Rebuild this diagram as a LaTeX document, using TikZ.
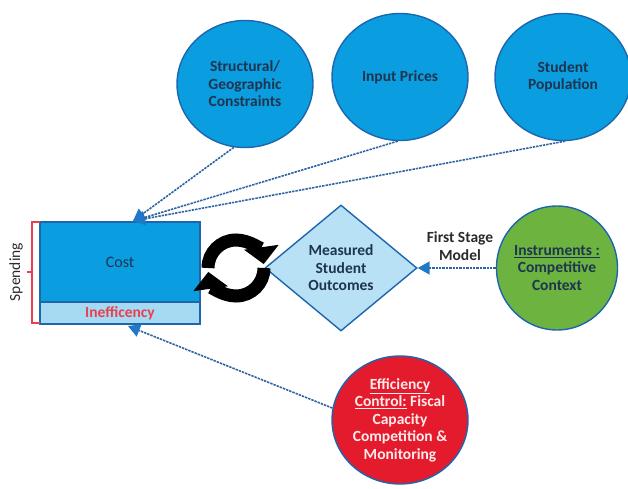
\documentclass[tikz,border=0pt]{standalone}
\usepackage{fontspec}
\setmainfont{Carlito}
\usetikzlibrary{arrows.meta,shapes.geometric}

\definecolor{skyblue}{HTML}{0A9DE0}
\definecolor{edgeblue}{HTML}{1D66AE}
\definecolor{paleblue}{HTML}{A6DAF2}
\definecolor{diafill}{HTML}{B8E1F5}
\definecolor{leafgreen}{HTML}{6CB33F}
\definecolor{alertred}{HTML}{E31B2C}
\definecolor{navytext}{HTML}{1E3550}
\definecolor{dashblue}{HTML}{2F64A4}
\definecolor{tipblue}{HTML}{1F78C8}
\definecolor{bracketred}{HTML}{E8404F}
\definecolor{labelgrey}{HTML}{2B2B2B}

\tikzset{
  factor/.style={ellipse, draw=edgeblue, line width=1.4, fill=skyblue,
    minimum width=136, minimum height=127, inner sep=0pt, align=center,
    text=navytext},
  costbox/.style={rectangle, draw=edgeblue, line width=1.6, inner sep=0pt},
  flow/.style={draw=dashblue, line width=1.6, dash pattern=on 2.4pt off 1pt,
    -{Triangle[length=12,width=13,color=tipblue,fill=tipblue]}},
  loop/.style={draw=black, line width=13,
    -{Triangle[length=17,width=34]}},
}

\begin{document}
\begin{tikzpicture}[x=1pt,y=-1pt,
  font=\fontsize{15.5}{17.5}\selectfont\bfseries]
\useasboundingbox (0,0) rectangle (628,489);

% cost drivers
\node[factor] (geo) at (245,84) {Structural/\\Geographic\\Constraints};
\node[factor] (price) at (400,77) {Input Prices};
\node[factor] (pop) at (563,77) {Student\\Population};

% spending split into cost and inefficiency
\node[costbox, fill=skyblue, minimum width=160, minimum height=80,
  text=navytext, font=\fontsize{16}{18}\selectfont] (cost) at (120,262) {Cost};
\node[costbox, fill=paleblue, minimum width=160, minimum height=22,
  text=bracketred] (ineff) at (120,313) {Inefficency};

% spending bracket
\draw[bracketred, line width=1.5] (40,222) -- (32,222) -- (32,323) -- (40,323)
  (32,272) -- (27,272);
\node[rotate=90, text=labelgrey, font=\fontsize{15.5}{17}\selectfont]
  (spend) at (16,272) {Spending};

% outcomes and instruments
\node[diamond, draw=edgeblue, line width=1.4, fill=diafill,
  minimum width=152, minimum height=126, inner sep=0pt, align=center,
  text=navytext] (out) at (341,268) {Measured\\Student\\Outcomes};
\node[ellipse, draw=edgeblue, line width=1.4, fill=leafgreen,
  minimum width=118, minimum height=124, inner sep=0pt, align=center,
  text=navytext] (inst) at (557,268)
  {\underline{Instruments :}\\Competitive\\Context};
\node[align=center, text=labelgrey] (stage) at (460,246)
  {First Stage\\Model};

% efficiency controls
\node[ellipse, draw=edgeblue, line width=1.4, fill=alertred,
  minimum width=136, minimum height=128, inner sep=0pt, align=center,
  text=white!92!red] (ctrl) at (400,420)
  {\underline{Efficiency}\\\underline{Control:} Fiscal\\Capacity\\Competition \&\\Monitoring};

% feedback between cost and outcomes
\coordinate (hub) at (236,268);
\draw[loop] ([shift={(-28,0)}]hub) arc[start angle=180, end angle=352, radius=28];
\draw[loop] ([shift={(28,0)}]hub) arc[start angle=0, end angle=172, radius=28];

% dashed influence arrows
\coordinate (hit) at (133,221);
\draw[flow] (geo.-100) -- (hit);
\draw[flow] (price.-92) -- (hit);
\draw[flow] (pop.-88) -- (hit);
\draw[flow] (inst.west) -- (out.east);
\coordinate (low) at (128,326);
\draw[flow] (ctrl.170) -- (low);
\end{tikzpicture}
\end{document}
